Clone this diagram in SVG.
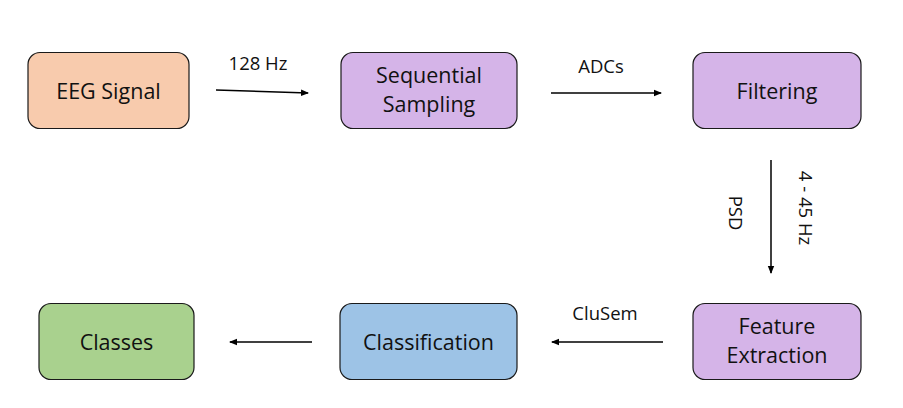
<svg xmlns="http://www.w3.org/2000/svg" width="903" height="408" viewBox="0 0 903 408">
<style>
.box{stroke:#1a1a1a;stroke-width:1.2}
.t{font-family:"Open Sans","Liberation Sans",sans-serif;font-size:21.5px;fill:#111;text-anchor:middle}
.l{font-family:"Open Sans","Liberation Sans",sans-serif;font-size:18.5px;fill:#111;text-anchor:middle}
.c{stroke:#000;stroke-width:1.5;fill:none;marker-end:url(#ah)}
</style>
<defs>
<marker id="ah" markerWidth="8" markerHeight="8" refX="7" refY="4" orient="auto" markerUnits="userSpaceOnUse">
<path d="M0,0.8 L8,4 L0,7.2 Z" fill="#000"/>
</marker>
</defs>
<rect width="903" height="408" fill="#fff"/>
<g id="eeg"><rect class="box" x="28" y="52.5" width="161" height="76" rx="12" fill="#F8CBAD"/><text class="t" x="108.5" y="99">EEG Signal</text></g>
<g id="sampling"><rect class="box" x="341" y="52.5" width="176" height="76" rx="12" fill="#D5B4E8"/><text class="t" x="429" y="83">Sequential</text><text class="t" x="429" y="112">Sampling</text></g>
<g id="filtering"><rect class="box" x="693" y="52.5" width="168" height="76" rx="12" fill="#D5B4E8"/><text class="t" x="777" y="99">Filtering</text></g>
<g id="feature"><rect class="box" x="693" y="303.5" width="168" height="76" rx="12" fill="#D5B4E8"/><text class="t" x="777" y="334">Feature</text><text class="t" x="777" y="363">Extraction</text></g>
<g id="classification"><rect class="box" x="340" y="303.5" width="177" height="76" rx="12" fill="#9DC3E6"/><text class="t" x="428.5" y="350">Classification</text></g>
<g id="classes"><rect class="box" x="39" y="303.5" width="155" height="76" rx="12" fill="#A9D18E"/><text class="t" x="116.5" y="350">Classes</text></g>
<g id="connectors">
<line class="c" x1="216" y1="90" x2="308" y2="93"/>
<text class="l" x="258" y="70">128 Hz</text>
<line class="c" x1="551" y1="93" x2="661" y2="93"/>
<text class="l" x="601" y="73">ADCs</text>
<line class="c" x1="771" y1="160" x2="771" y2="273"/>
<text class="l" transform="translate(799,208) rotate(90)">4 - 45 Hz</text>
<text class="l" transform="translate(729,213) rotate(90)">PSD</text>
<line class="c" x1="663" y1="342" x2="552" y2="342"/>
<text class="l" x="605" y="320">CluSem</text>
<line class="c" x1="312" y1="342" x2="230" y2="342"/>
</g>
</svg>
